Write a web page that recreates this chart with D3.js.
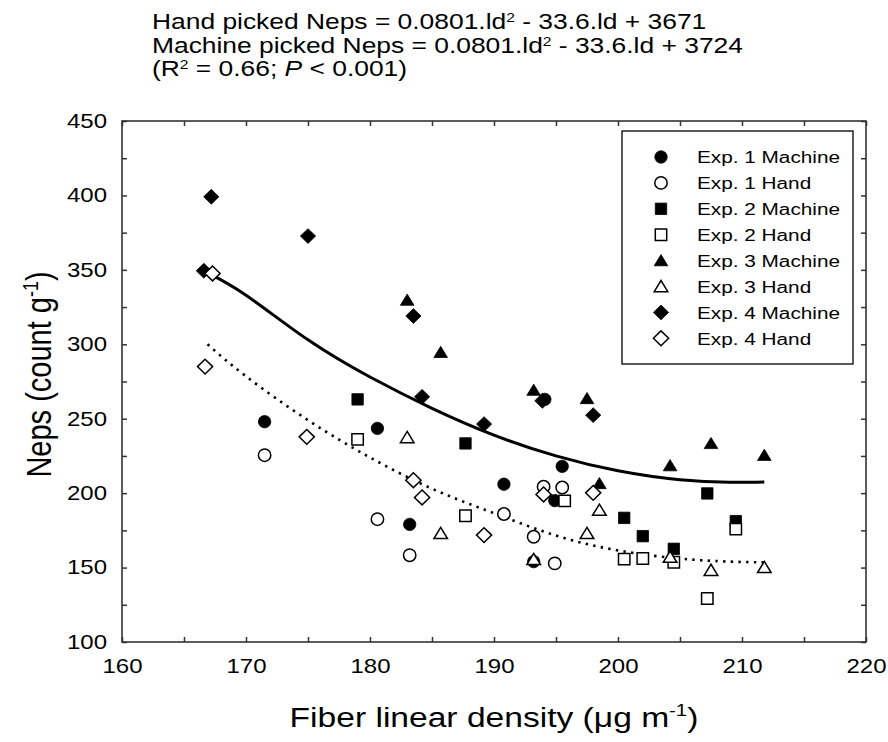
<!DOCTYPE html>
<html>
<head>
<meta charset="utf-8">
<script src="https://cdn.jsdelivr.net/npm/d3@7"></script>
<style>
  body { margin: 0; background: #fff; }
  text { font-family: Arial, "Liberation Sans", sans-serif; fill: #000; }
</style>
</head>
<body>
<div id="chart"></div>
<script>
// data (fiber linear density, neps)
var exp1MachineX = [171.5, 180.6, 183.2, 190.8, 194.1, 195.5, 194.9, 193.2];
var exp1MachineY = [248, 243.5, 179, 206, 263, 218, 195, 154];
var exp1HandX = [171.5, 180.6, 183.2, 190.8, 194.0, 195.5, 193.2, 194.9];
var exp1HandY = [225.5, 182.5, 158.3, 186, 204.3, 203.8, 170.7, 152.8];
var exp2MachineX = [179.0, 187.7, 200.5, 202.0, 204.5, 207.2, 209.5];
var exp2MachineY = [263, 233.4, 183.4, 171.1, 162.6, 199.8, 181.2];
var exp2HandX = [179.0, 187.7, 195.7, 200.5, 202.0, 204.5, 207.2, 209.5];
var exp2HandY = [236.1, 184.8, 194.8, 155.7, 156.1, 153.6, 129.2, 175.8];
var exp3MachineX = [183.0, 185.7, 193.2, 197.5, 198.5, 204.2, 207.5, 211.8];
var exp3MachineY = [329.7, 294.6, 269.2, 263.6, 206.5, 218.5, 233.4, 225.5];
var exp3HandX = [183.0, 185.7, 193.2, 197.5, 198.5, 204.2, 207.5, 211.8];
var exp3HandY = [237.4, 173.0, 155.5, 173.0, 188.6, 157.0, 148.2, 150.1];
var exp4MachineX = [167.2, 175.0, 166.6, 183.5, 184.2, 189.2, 193.9, 198.0];
var exp4MachineY = [399.1, 372.7, 349.4, 319.0, 264.7, 246.4, 262.0, 252.4];
var exp4HandX = [166.7, 167.3, 174.9, 183.5, 184.2, 189.2, 194.0, 198.0];
var exp4HandY = [285.0, 347.6, 237.8, 208.7, 197.1, 171.8, 199.1, 200.2];

// fitted curves
var fitX = [166.9, 170, 175, 180, 185, 190, 195, 200, 205, 209, 211.8];
var machineFitY = [348, 333, 303, 278, 257, 239, 225, 215, 209, 207.3, 207.5];
var handFitY = [300, 278.5, 249, 224, 203, 186.5, 171.5, 161.5, 156, 154, 153.5];

var xTicks = [160, 170, 180, 190, 200, 210, 220];
var xMinor = [165, 175, 185, 195, 205, 215];
var yTicks = [100, 150, 200, 250, 300, 350, 400, 450];
var yMinor = [125, 175, 225, 275, 325, 375, 425];

var seriesNames = ["Exp. 1 Machine", "Exp. 1 Hand", "Exp. 2 Machine", "Exp. 2 Hand",
  "Exp. 3 Machine", "Exp. 3 Hand", "Exp. 4 Machine", "Exp. 4 Hand"];

var series = [
  {name: seriesNames[0], x: exp1MachineX, y: exp1MachineY, shape: "circle", filled: true},
  {name: seriesNames[1], x: exp1HandX, y: exp1HandY, shape: "circle", filled: false},
  {name: seriesNames[2], x: exp2MachineX, y: exp2MachineY, shape: "square", filled: true},
  {name: seriesNames[3], x: exp2HandX, y: exp2HandY, shape: "square", filled: false},
  {name: seriesNames[4], x: exp3MachineX, y: exp3MachineY, shape: "triangle", filled: true},
  {name: seriesNames[5], x: exp3HandX, y: exp3HandY, shape: "triangle", filled: false},
  {name: seriesNames[6], x: exp4MachineX, y: exp4MachineY, shape: "diamond", filled: true},
  {name: seriesNames[7], x: exp4HandX, y: exp4HandY, shape: "diamond", filled: false}
];

var svgWidth = 888, svgHeight = 742;
var stretch = 1.2; // the figure's text is widened horizontally
var axisColor = "#333";

var svg = d3.select("#chart").append("svg")
  .attr("width", svgWidth)
  .attr("height", svgHeight);

var x = d3.scaleLinear().domain([160, 220]).range([122, 866]);
var y = d3.scaleLinear().domain([100, 450]).range([642, 121]);

function shapePath(shape) {
  var p = d3.path();
  if (shape == "circle") {
    p.arc(0, 0, 6.2, 0, 2 * Math.PI);
  } else if (shape == "square") {
    p.rect(-5.7, -5.7, 11.4, 11.4);
  } else if (shape == "triangle") {
    p.moveTo(0, -6); p.lineTo(6.8, 5.2); p.lineTo(-6.8, 5.2); p.closePath();
  } else {
    p.moveTo(0, -7.4); p.lineTo(7.6, 0); p.lineTo(0, 7.4); p.lineTo(-7.6, 0); p.closePath();
  }
  return p.toString();
}

// axes, ticks inward on all four sides
function styleAxis(g) {
  g.select(".domain").remove();
  g.selectAll(".tick line").attr("stroke", axisColor).attr("stroke-width", 1.5);
}

svg.append("g")
  .attr("transform", `translate(0, ${y(100)})`)
  .call(d3.axisBottom(x).tickValues(xTicks).tickSize(-5).tickPadding(17).tickFormat(d3.format("d")))
  .call(styleAxis)
  .call(g => g.selectAll("text").attr("font-size", 20).attr("transform", `scale(${stretch},1)`));
svg.append("g")
  .attr("transform", `translate(0, ${y(100)})`)
  .call(d3.axisBottom(x).tickValues(xMinor).tickSize(-5).tickFormat(""))
  .call(styleAxis);
svg.append("g")
  .attr("transform", `translate(0, ${y(450)})`)
  .call(d3.axisTop(x).tickValues(xTicks.concat(xMinor)).tickSize(-5).tickFormat(""))
  .call(styleAxis);

svg.append("g")
  .attr("transform", `translate(${x(160)}, 0)`)
  .call(d3.axisLeft(y).tickValues(yTicks).tickSize(-5).tickPadding(12.5))
  .call(styleAxis)
  .call(g => g.selectAll("text").attr("font-size", 20).attr("transform", `scale(${stretch},1)`));
svg.append("g")
  .attr("transform", `translate(${x(160)}, 0)`)
  .call(d3.axisLeft(y).tickValues(yMinor).tickSize(-5).tickFormat(""))
  .call(styleAxis);
svg.append("g")
  .attr("transform", `translate(${x(220)}, 0)`)
  .call(d3.axisRight(y).tickValues(yTicks.concat(yMinor)).tickSize(-5).tickFormat(""))
  .call(styleAxis);

svg.append("rect")
  .attr("x", x(160))
  .attr("y", y(450))
  .attr("width", x(220) - x(160))
  .attr("height", y(100) - y(450))
  .attr("fill", "none")
  .attr("stroke", axisColor)
  .attr("stroke-width", 1.6);

// fitted curves
var line = d3.line()
  .x((d, i) => x(fitX[i]))
  .y(d => y(d))
  .curve(d3.curveNatural);

svg.append("path")
  .attr("d", line(handFitY))
  .attr("fill", "none")
  .attr("stroke", "#000")
  .attr("stroke-width", 2.6)
  .attr("stroke-dasharray", "2.4,5.3");

svg.append("path")
  .attr("d", line(machineFitY))
  .attr("fill", "none")
  .attr("stroke", "#000")
  .attr("stroke-width", 3);

// points
series.forEach(function(s) {
  svg.append("g")
    .selectAll("path")
    .data(s.x)
    .enter()
    .append("path")
    .attr("d", shapePath(s.shape))
    .attr("transform", (d, i) => `translate(${x(d)}, ${y(s.y[i])})`)
    .attr("fill", s.filled ? "#000" : "#fff")
    .attr("stroke", "#000")
    .attr("stroke-width", s.filled ? 0.8 : 1.5);
});

// legend
var legend = svg.append("g");
legend.append("rect")
  .attr("x", 622)
  .attr("y", 131)
  .attr("width", 231)
  .attr("height", 233)
  .attr("fill", "#fff")
  .attr("stroke", "#000")
  .attr("stroke-width", 1.3);

var rows = legend.selectAll("g.row")
  .data(series)
  .enter()
  .append("g")
  .attr("class", "row")
  .attr("transform", (d, i) => `translate(661, ${157 + i * 25.9})`);
rows.append("path")
  .attr("d", d => shapePath(d.shape))
  .attr("fill", d => d.filled ? "#000" : "#fff")
  .attr("stroke", "#000")
  .attr("stroke-width", d => d.filled ? 0.8 : 1.5);
rows.append("text")
  .attr("transform", `translate(36, 6.3) scale(${stretch},1)`)
  .attr("font-size", 17.3)
  .text(d => d.name);

// equations above the plot
var titleLines = [
  [["Hand picked Neps = 0.0801.ld", ""], ["2", "sup"], [" - 33.6.ld + 3671", ""]],
  [["Machine picked Neps = 0.0801.ld", ""], ["2", "sup"], [" - 33.6.ld + 3724", ""]],
  [["(R", ""], ["2", "sup"], [" = 0.66; ", ""], ["P", "it"], [" < 0.001)", ""]]
];
titleLines.forEach(function(parts, li) {
  var t = svg.append("text")
    .attr("transform", `translate(152, ${29 + li * 23.5}) scale(${stretch},1)`)
    .attr("font-size", 22);
  var prevSup = false;
  parts.forEach(function(p) {
    var ts = t.append("tspan").text(p[0]);
    if (p[1] == "sup") {
      ts.attr("font-size", 13).attr("dy", -7);
    } else if (prevSup) {
      ts.attr("dy", 7);
    }
    if (p[1] == "it") ts.attr("font-style", "italic");
    prevSup = p[1] == "sup";
  });
});

// axis titles
var xTitle = svg.append("text")
  .attr("transform", `translate(${(x(160) + x(220)) / 2}, 727) scale(${stretch},1)`)
  .attr("text-anchor", "middle")
  .attr("font-size", 28);
xTitle.append("tspan").text("Fiber linear density (\u03bcg m");
xTitle.append("tspan").attr("font-size", 17).attr("dy", -11).text("-1");
xTitle.append("tspan").attr("dy", 11).text(")");

var yTitle = svg.append("text")
  .attr("transform", `translate(51, ${(y(100) + y(450)) / 2 - 7}) scale(${stretch},1) rotate(-90)`)
  .attr("text-anchor", "middle")
  .attr("font-size", 29);
yTitle.append("tspan").text("Neps (count g");
yTitle.append("tspan").attr("font-size", 18).attr("dy", -11).text("-1");
yTitle.append("tspan").attr("dy", 11).text(")");
</script>
</body>
</html>
